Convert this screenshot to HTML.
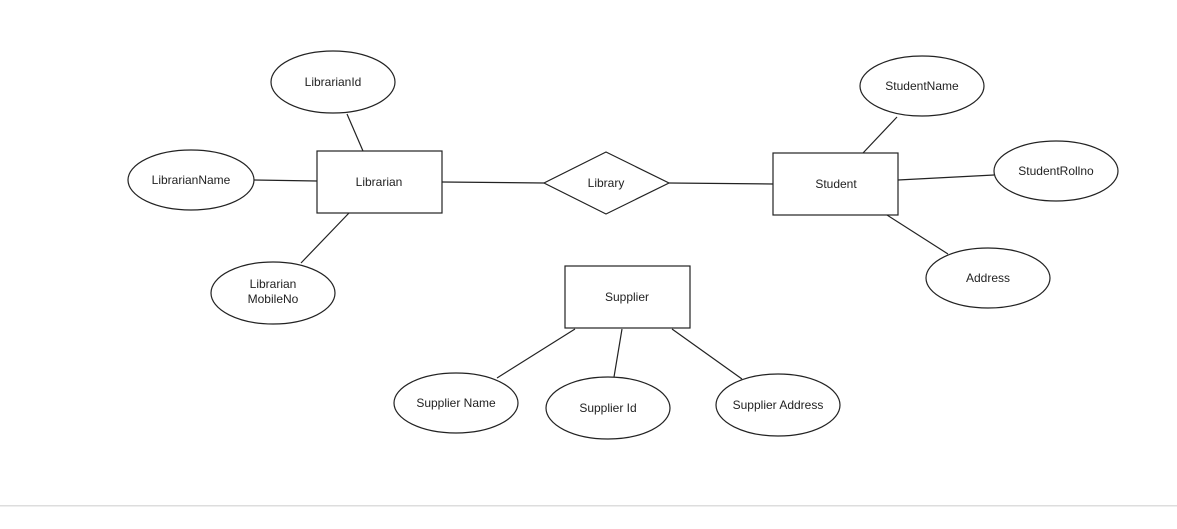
<!DOCTYPE html>
<html><head><meta charset="utf-8"><style>
html,body{margin:0;padding:0;background:#fff;width:1177px;height:529px;overflow:hidden}
svg text{font-family:"Liberation Sans",Arial,sans-serif;font-size:12px;fill:#222}
</style></head><body>
<svg width="1177" height="529" viewBox="0 0 1177 529" xmlns="http://www.w3.org/2000/svg">
<g stroke="#222" stroke-width="1.2" fill="none">
<line x1="347" y1="114" x2="363" y2="151"/>
<line x1="254" y1="180" x2="317" y2="181"/>
<line x1="349" y1="213" x2="301" y2="263"/>
<line x1="442" y1="182" x2="544" y2="183"/>
<line x1="669" y1="183" x2="773" y2="184"/>
<line x1="897" y1="117" x2="863" y2="153"/>
<line x1="898" y1="180" x2="994" y2="175"/>
<line x1="887" y1="215" x2="948" y2="254"/>
<line x1="575" y1="329" x2="497" y2="378"/>
<line x1="622" y1="329" x2="614" y2="377"/>
<line x1="672" y1="329" x2="742" y2="379"/>
</g>
<g stroke="#222" stroke-width="1.2" fill="#fff">
<ellipse cx="333" cy="82" rx="62" ry="31"/>
<ellipse cx="191" cy="180" rx="63" ry="30"/>
<ellipse cx="273" cy="293" rx="62" ry="31"/>
<ellipse cx="922" cy="86" rx="62" ry="30"/>
<ellipse cx="1056" cy="171" rx="62" ry="30"/>
<ellipse cx="988" cy="278" rx="62" ry="30"/>
<ellipse cx="456" cy="403" rx="62" ry="30"/>
<ellipse cx="608" cy="408" rx="62" ry="31"/>
<ellipse cx="778" cy="405" rx="62" ry="31"/>
<rect x="317" y="151" width="125" height="62"/>
<rect x="773" y="153" width="125" height="62"/>
<rect x="565" y="266" width="125" height="62"/>
<polygon points="606,152 669,183 606,214 544,183"/>
</g>
<g text-anchor="middle">
<text x="333" y="86">LibrarianId</text>
<text x="191" y="184">LibrarianName</text>
<text x="273" y="288">Librarian</text>
<text x="273" y="303">MobileNo</text>
<text x="379" y="186">Librarian</text>
<text x="606" y="187">Library</text>
<text x="836" y="188">Student</text>
<text x="922" y="90">StudentName</text>
<text x="1056" y="175">StudentRollno</text>
<text x="988" y="282">Address</text>
<text x="627" y="301">Supplier</text>
<text x="456" y="407">Supplier Name</text>
<text x="608" y="412">Supplier Id</text>
<text x="778" y="409">Supplier Address</text>
</g>
<rect x="0" y="505" width="1177" height="1.5" fill="#ddd"/>
</svg>
</body></html>
